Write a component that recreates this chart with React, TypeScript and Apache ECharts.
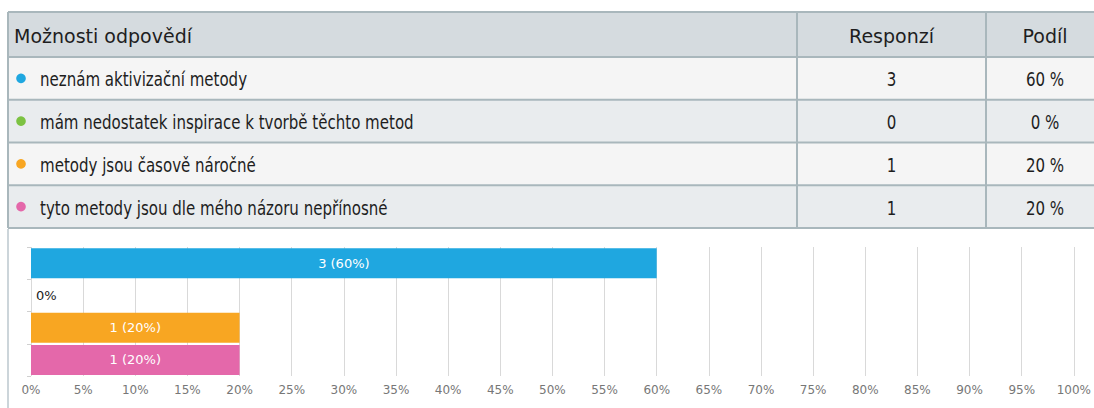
import React, { useEffect, useRef } from 'react';
import * as echarts from 'echarts';

const headers = ['Možnosti odpovědí', 'Responzí', 'Podíl'];
const categories = [
  'neznám aktivizační metody',
  'mám nedostatek inspirace k tvorbě těchto metod',
  'metody jsou časově náročné',
  'tyto metody jsou dle mého názoru nepřínosné',
];
const responses = [3, 0, 1, 1];
const shares = [60, 0, 20, 20];
const colors = ['#1fa7e0', '#7cc242', '#f8a622', '#e468aa'];
const axisMin = 0;
const axisMax = 100;
const axisStep = 5;

const TABLE_X = 8;
const COL2 = 797;
const COL3 = 986;
const TABLE_R = 1110;
const HEAD_TOP = 12;
const HEAD_H = 45;
const ROW_H = 42.75;
const BORDER = '#a9b7bc';
const HEAD_BG = '#d5dbdf';
const ROW_BG = ['#f5f5f5', '#e9ecee'];
const TABLE_FONT = '"DejaVu Sans Condensed", "DejaVu Sans", sans-serif';
const CHART_FONT = '"DejaVu Sans", sans-serif';

function buildTable(): any[] {
  const els: any[] = [];
  const bottom = HEAD_TOP + HEAD_H + ROW_H * categories.length;
  els.push({ type: 'rect', shape: { x: TABLE_X, y: HEAD_TOP, width: TABLE_R - TABLE_X, height: HEAD_H }, style: { fill: HEAD_BG } });
  categories.forEach((_, i) => {
    els.push({ type: 'rect', shape: { x: TABLE_X, y: HEAD_TOP + HEAD_H + i * ROW_H, width: TABLE_R - TABLE_X, height: ROW_H }, style: { fill: ROW_BG[i % 2] } });
  });
  const hy = [HEAD_TOP, HEAD_TOP + HEAD_H];
  categories.forEach((_, i) => hy.push(HEAD_TOP + HEAD_H + (i + 1) * ROW_H));
  hy.forEach((y) => {
    els.push({ type: 'line', shape: { x1: TABLE_X, y1: y, x2: TABLE_R, y2: y }, style: { stroke: BORDER, lineWidth: 2 } });
  });
  [TABLE_X, COL2, COL3].forEach((x) => {
    els.push({ type: 'line', shape: { x1: x, y1: HEAD_TOP, x2: x, y2: bottom }, style: { stroke: BORDER, lineWidth: 2 } });
  });
  const hc = HEAD_TOP + HEAD_H / 2 + 1;
  const headFont = 'normal 19px "DejaVu Sans", sans-serif';
  els.push({ type: 'text', x: 14, y: hc, style: { text: headers[0], font: headFont, fill: '#1e1e1e', align: 'left', verticalAlign: 'middle' } });
  els.push({ type: 'text', x: (COL2 + COL3) / 2, y: hc, style: { text: headers[1], font: headFont, fill: '#1e1e1e', align: 'center', verticalAlign: 'middle' } });
  els.push({ type: 'text', x: 1045, y: hc, style: { text: headers[2], font: headFont, fill: '#1e1e1e', align: 'center', verticalAlign: 'middle' } });
  const rowFont = `normal 19px ${TABLE_FONT}`;
  const sx = 0.88;
  categories.forEach((c, i) => {
    const cy = HEAD_TOP + HEAD_H + i * ROW_H + ROW_H / 2 + 1;
    els.push({ type: 'circle', shape: { cx: 21, cy: cy - 1, r: 4.8 }, style: { fill: colors[i] } });
    els.push({ type: 'text', x: 40, y: cy, scaleX: sx, style: { text: c, font: rowFont, fill: '#1e1e1e', align: 'left', verticalAlign: 'middle' } });
    els.push({ type: 'text', x: (COL2 + COL3) / 2, y: cy, scaleX: sx, style: { text: String(responses[i]), font: rowFont, fill: '#1e1e1e', align: 'center', verticalAlign: 'middle' } });
    els.push({ type: 'text', x: 1045, y: cy, scaleX: sx, style: { text: `${shares[i]} %`, font: rowFont, fill: '#1e1e1e', align: 'center', verticalAlign: 'middle' } });
  });
  // chart panel border
  els.push({ type: 'line', shape: { x1: TABLE_X, y1: bottom + 1, x2: TABLE_X, y2: 410 }, style: { stroke: '#ccd5da', lineWidth: 2 } });
  return els;
}

export default function App() {
  const ref = useRef<HTMLDivElement>(null);
  useEffect(() => {
    if (!ref.current) return;
    const chart = echarts.init(ref.current, undefined, { renderer: 'svg' });
    const data = shares.map((v, i) => {
      const item: any = { value: v, itemStyle: { color: colors[i] } };
      if (v === 0) {
        item.label = { position: 'insideLeft', color: '#222', distance: 5 };
      }
      return item;
    });
    chart.setOption({
      animation: false,
      backgroundColor: '#ffffff',
      textStyle: { fontFamily: CHART_FONT },
      graphic: { elements: buildTable() },
      grid: { left: 31, right: 17, top: 247, bottom: 32, containLabel: false },
      xAxis: {
        type: 'value',
        min: axisMin,
        max: axisMax,
        interval: axisStep,
        axisLine: { show: false },
        axisTick: { show: false },
        axisLabel: { formatter: '{value}%', color: '#777', fontSize: 12, fontFamily: CHART_FONT, margin: 8 },
        splitLine: { show: true, lineStyle: { color: '#d9d9d9', width: 1 } },
      },
      yAxis: {
        type: 'category',
        data: categories,
        inverse: true,
        axisLine: { show: false },
        axisLabel: { show: false },
        axisTick: { show: true, length: 4, lineStyle: { color: '#d0d0d0' } },
        splitLine: { show: false },
      },
      series: [
        {
          type: 'bar',
          data,
          barWidth: 30,
          label: {
            show: true,
            position: 'inside',
            color: '#ffffff',
            fontSize: 13,
            fontFamily: CHART_FONT,
            formatter: (p: any) => {
              const i = p.dataIndex;
              return shares[i] === 0 ? `${shares[i]}%` : `${responses[i]} (${shares[i]}%)`;
            },
          },
        },
      ],
    });
    return () => chart.dispose();
  }, []);
  return <div ref={ref} style={{ position: 'fixed', left: 0, top: 0, width: 1094, height: 408 }} />;
}
